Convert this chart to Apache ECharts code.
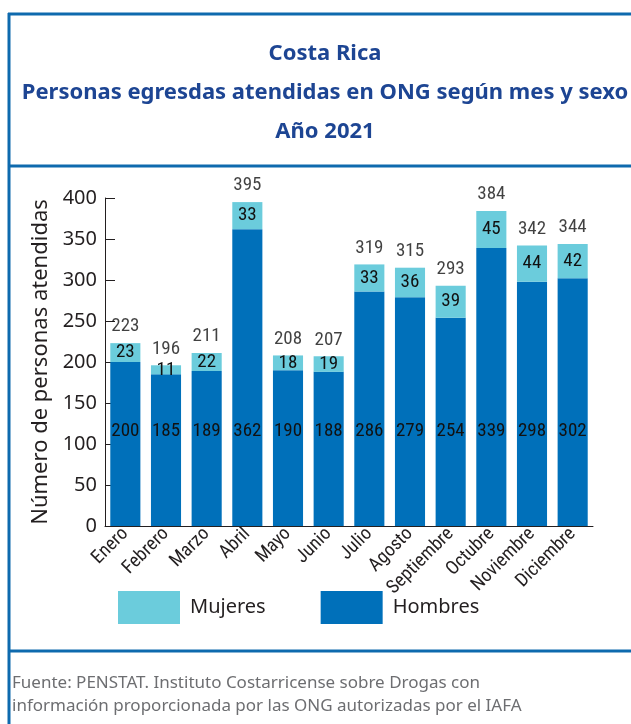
<!DOCTYPE html>
<html>
<head>
<meta charset="utf-8">
<script src="https://cdn.jsdelivr.net/npm/echarts@6/dist/echarts.min.js"></script>
<style>html,body{margin:0;padding:0;background:#fff}#c{width:631px;height:724px}</style>
</head>
<body>
<div id="c"></div>
<script>
const months = ['Enero','Febrero','Marzo','Abril','Mayo','Junio','Julio','Agosto','Septiembre','Octubre','Noviembre','Diciembre'];
const hombres = [200,185,189,362,190,188,286,279,254,339,298,302];
const mujeres = [23,11,22,33,18,19,33,36,39,45,44,42];
const totales = [223,196,211,395,208,207,319,315,293,384,342,344];
const yTicks = [0,50,100,150,200,250,300,350,400];

const NARROW = "'Roboto Condensed','Liberation Sans Narrow',sans-serif";
const SANS = "'Noto Sans','Open Sans',sans-serif";
const FRAME = '#0e6aae';
const TXT = '#231f20';

const chart = echarts.init(document.getElementById('c'), null, {renderer:'canvas'});
chart.setOption({
  animation:false,
  backgroundColor:'#ffffff',
  title:{
    text:'Costa Rica\nPersonas egresdas atendidas en ONG según mes y sexo\nAño 2021',
    left:325, top:34, textAlign:'center', padding:0,
    textStyle:{fontFamily:SANS, fontWeight:'bold', fontSize:22, color:'#1d4593', lineHeight:39}
  },
  legend:{
    data:['Mujeres','Hombres'],
    left:118, top:591, itemWidth:62, itemHeight:33, itemGap:55, padding:0,
    icon:'rect',
    textStyle:{fontFamily:SANS, fontSize:20, color:TXT, padding:[6,0,0,5]}
  },
  grid:{left:105, right:38, top:198, bottom:198},
  xAxis:{
    type:'category', data:months,
    axisLine:{lineStyle:{color:TXT, width:1}},
    axisTick:{inside:true, length:7, lineStyle:{color:TXT}},
    axisLabel:{interval:0, rotate:45, fontFamily:NARROW, fontSize:19, color:TXT, margin:5}
  },
  yAxis:{
    type:'value', min:yTicks[0], max:yTicks[yTicks.length-1], interval:50,
    name:'Número de personas atendidas', nameLocation:'middle', nameGap:40,
    nameTextStyle:{fontFamily:SANS, fontSize:22, color:TXT},
    axisLine:{show:true, lineStyle:{color:TXT, width:1}},
    axisTick:{show:true, inside:true, length:10, lineStyle:{color:TXT}},
    axisLabel:{fontFamily:SANS, fontSize:20, color:TXT, margin:8},
    splitLine:{show:false}
  },
  series:[
    {name:'Hombres', type:'bar', stack:'s', data:hombres, barCategoryGap:'26%',
     itemStyle:{color:'#0070ba'},
     label:{show:true, position:'insideBottom', distance:85, fontFamily:NARROW, fontSize:19, color:'#111'}},
    {name:'Mujeres', type:'bar', stack:'s', data:mujeres,
     itemStyle:{color:'#6bccdc'},
     label:{show:true, position:'inside', fontFamily:NARROW, fontSize:19, color:'#111'}},
    {name:'Total', type:'scatter', data:totales, symbolSize:0, itemStyle:{color:'#111'},
     label:{show:true, position:'top', distance:7, fontFamily:NARROW, fontSize:19, color:'#111'}}
  ],
  graphic:[
    {type:'line', shape:{x1:8, y1:14, x2:631, y2:14}, style:{stroke:FRAME, lineWidth:3}},
    {type:'line', shape:{x1:9, y1:13, x2:9, y2:724}, style:{stroke:FRAME, lineWidth:3}},
    {type:'line', shape:{x1:8, y1:166, x2:631, y2:166}, style:{stroke:FRAME, lineWidth:3}},
    {type:'line', shape:{x1:8, y1:651, x2:631, y2:651}, style:{stroke:FRAME, lineWidth:3}},
    {type:'text', left:12, top:672, style:{text:'Fuente: PENSTAT. Instituto Costarricense sobre Drogas con\ninformación proporcionada por las ONG autorizadas por el IAFA',
      font:"17px 'Noto Sans',sans-serif", fill:'#6d6e71', lineHeight:23}}
  ]
});
</script>
</body>
</html>
